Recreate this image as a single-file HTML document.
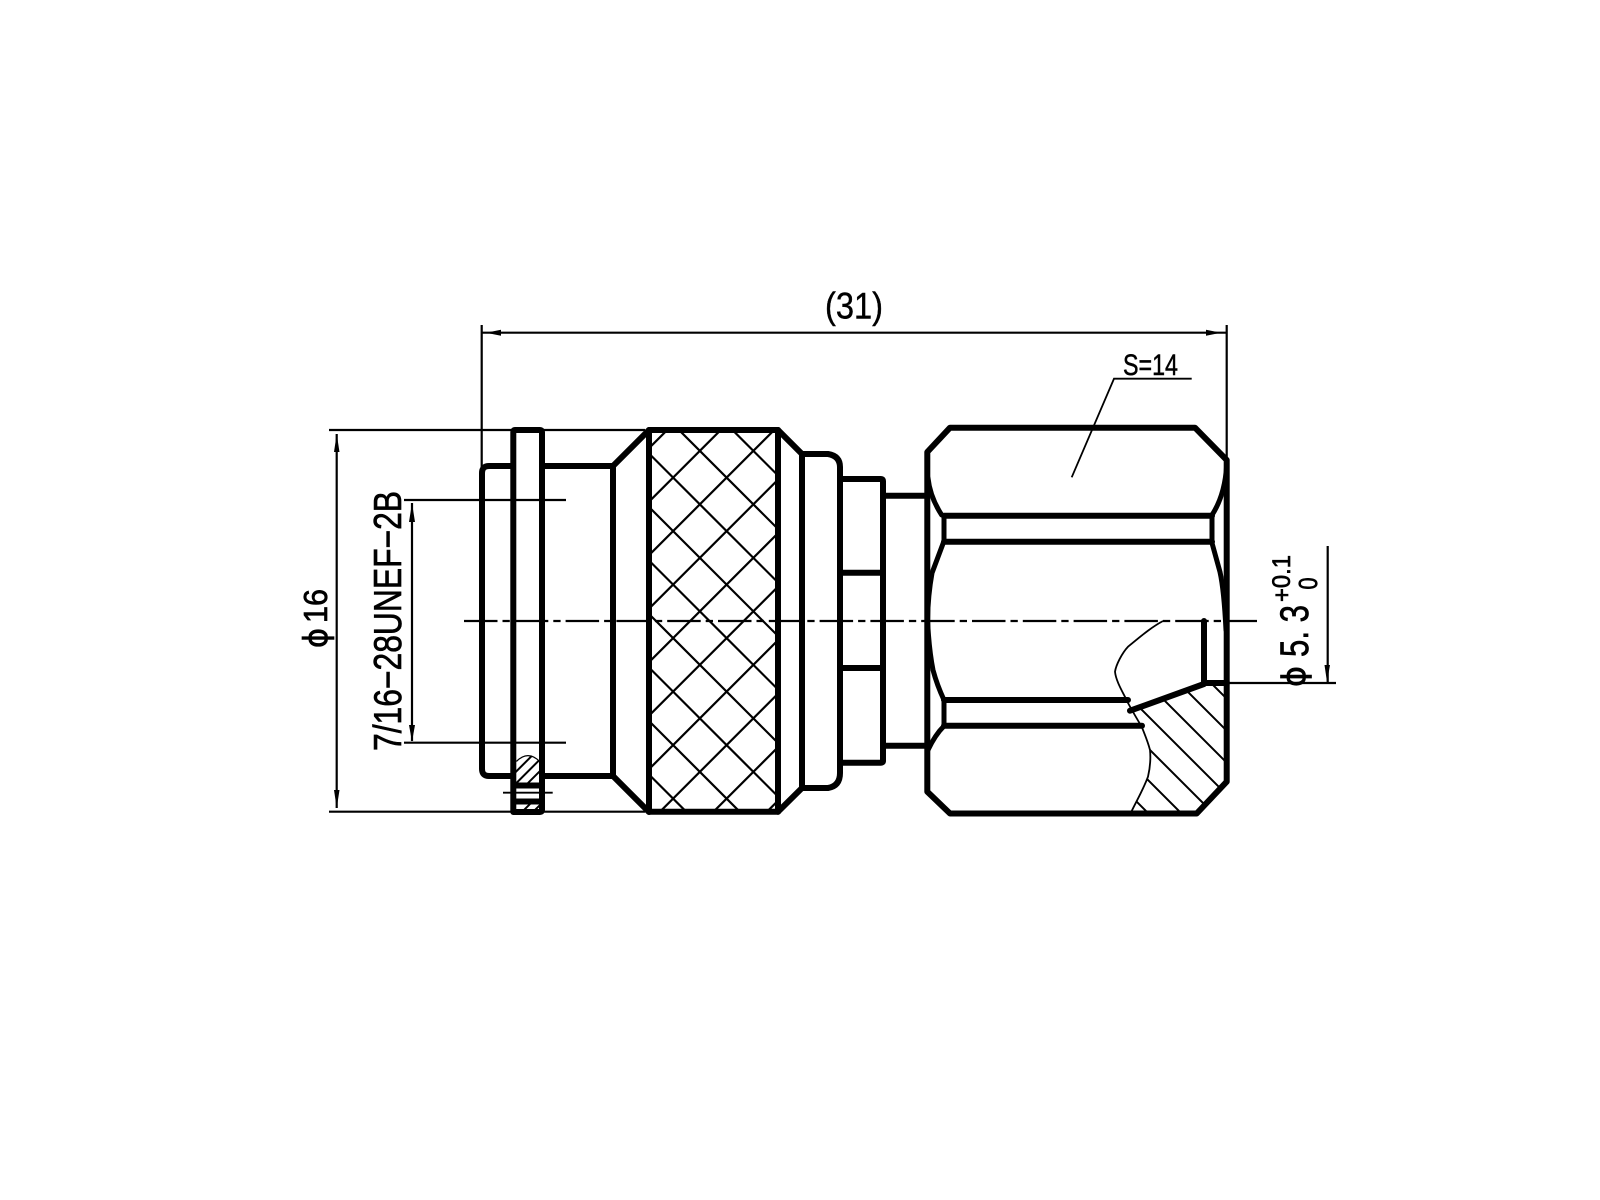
<!DOCTYPE html>
<html><head><meta charset="utf-8"><style>
html,body{margin:0;padding:0;background:#fff;width:1600px;height:1200px;overflow:hidden}
svg{display:block}
text{font-family:"Liberation Sans",sans-serif;fill:#000;stroke:#000;stroke-width:.7}
</style></head><body>
<svg width="1600" height="1200" viewBox="0 0 1600 1200" xmlns="http://www.w3.org/2000/svg">
<defs>
<clipPath id="kn"><rect x="651" y="432" width="125" height="378"/></clipPath>
<clipPath id="fh"><path d="M516 761Q528 749 540 761V783H516ZM516 804H540V810H516Z"/></clipPath>
<clipPath id="nh"><path d="M1204 684L1130 711L1141.7 726.7L1150 750L1148 776.7L1131.7 811H1197L1225 781V684Z"/></clipPath>
</defs>
<rect width="1600" height="1200" fill="#fff"/>

<!-- knurl -->
<g clip-path="url(#kn)" stroke="#000" stroke-width="2.2" fill="none">
<path d="M649 132.5L1000 483.5M649 186L1000 537M649 239.5L1000 590.5M649 293L1000 644M649 346.5L1000 697.5M649 400L1000 751M649 453.5L1000 804.5M649 507L1000 858M649 560.5L1000 911.5M649 614L1000 965M649 667.5L1000 1018.5M649 721L1000 1072M649 774.5L1000 1125.5"/>
<path d="M800 297.2L400 697.2M800 350.7L400 750.7M800 404.2L400 804.2M800 457.7L400 857.7M800 511.2L400 911.2M800 564.7L400 964.7M800 618.2L400 1018.2M800 671.7L400 1071.7M800 725.2L400 1125.2M800 778.7L400 1178.7M800 832.2L400 1232.2"/>
</g>

<!-- nut hatch -->
<g clip-path="url(#nh)" stroke="#000" stroke-width="2" fill="none">
<path d="M1100 572L1300 772M1100 604L1300 804M1100 636L1300 836M1100 668L1300 868M1100 700L1300 900M1100 732L1300 932M1100 765L1300 965"/>
</g>

<!-- flange hatch -->
<g clip-path="url(#fh)" stroke="#000" stroke-width="2" fill="none">
<path d="M500 776L550 726M500 787.7L550 737.7M500 799.4L550 749.4M500 811L550 761M500 834L550 784M500 845L550 795"/>
<path d="M516 761Q528 749 540 761" stroke-width="2.4"/>
</g>

<!-- thin dimension lines -->
<g stroke="#000" stroke-width="2.2" fill="none">
<path d="M482 332.7H1227"/>
<path d="M481.7 325V470M1226.7 325V460"/>
<path d="M329 430H645M329 811.7H645"/>
<path d="M336.7 434V808"/>
<path d="M404 500H566M404 742.7H566"/>
<path d="M412 503V741"/>
<path d="M1227 683H1336"/>
<path d="M1327.7 546V682"/>
<path d="M1191.7 378.7H1114L1071.7 477.3" stroke-width="1.8"/>
<path d="M503 792.7H552.7" stroke-width="1.8"/>
<path d="M464 621H1257" stroke-dasharray="33.5 5 7.3 5"/>
<path d="M1163 621C1150 628 1140 637 1128 646.7C1122 653 1116 665 1115 671.7C1116 682 1124 694 1128 703C1133 712 1137 719 1141.7 726.7C1145 735 1148 742 1150 750C1151 760 1150 768 1148 776.7C1143 790 1137 800 1131.7 811" stroke-width="1.8"/>
</g>

<!-- arrowheads -->
<g fill="#000">
<path d="M486 332.7L501 329.7V335.7Z"/>
<path d="M1221 332.7L1206 329.7V335.7Z"/>
<path d="M336.7 434L334 452H339.5Z"/>
<path d="M336.7 808L334 790H339.5Z"/>
<path d="M412 503L409 522H415Z"/>
<path d="M412 741.7L409 725H415Z"/>
<path d="M1327 682L1324.5 665H1330Z"/>
</g>

<!-- thick outlines -->
<g stroke="#000" stroke-width="6" fill="none" stroke-linejoin="round" stroke-linecap="round">
<!-- left barrel -->
<path d="M513 466H489Q482 466 482 473V769Q482 776 489 776H513"/>
<!-- flange -->
<path d="M513.3 812V432Q513.3 430 515 430H540Q542 430 542 432V810Q542 812 540 812H515Q513.3 812 513.3 810"/>
<path d="M516 785.5H539M516 801.5H539"/>
<path d="M542 466H613V776H542"/>
<path d="M613 466L649 430V812L613 776"/>
<!-- knurl box -->
<path d="M649 430H778V811.7H649"/>
<path d="M778 430V811.7"/>
<path d="M778 430L802 454V788L778 811.7"/>
<path d="M802 454H828Q840 456 840 467V773Q840 786 828 788H802"/>
<path d="M840 479H881Q883 479 883 481V761Q883 762.7 881 762.7H840"/>
<path d="M840 572.7H883M840 668H883"/>
<path d="M883 495.7H927M883 745.7H927"/>
<!-- hex -->
<path d="M927.3 452L950 427.7H1195L1226.7 460V781.7L1196.7 813.5H950L927.3 791.7Z"/>
<path d="M928 478Q930 497 941.7 515L944 516V541L932 573Q928 595 927.5 620Q929 650 933 670Q937 685 944 700V726Q935 735 928 750" stroke-width="5"/>
<path d="M1226.7 465Q1225 495 1212 515V543L1220 572Q1224 590 1226 630" stroke-width="5"/>
<path d="M944 515.7H1212M944 541.7H1212"/>
<path d="M944 700H1128M944 725.7H1142"/>
<path d="M1204 621V683H1227"/>
<path d="M1204 684L1130 710.7"/>
</g>

<!-- labels -->
<text x="825" y="318.3" font-size="37" textLength="58" lengthAdjust="spacingAndGlyphs" style="stroke-width:.4">(31)</text>
<text x="1123" y="375" font-size="30" textLength="55" lengthAdjust="spacingAndGlyphs" style="stroke-width:.5">S=14</text>
<text transform="translate(327 648) rotate(-90)" font-size="33" textLength="20" lengthAdjust="spacingAndGlyphs" style='font-family:"DejaVu Sans",sans-serif'>ϕ</text>
<text transform="translate(327 623) rotate(-90)" font-size="33" textLength="34" lengthAdjust="spacingAndGlyphs">16</text>
<text transform="translate(401 751) rotate(-90)" font-size="39" textLength="260" lengthAdjust="spacingAndGlyphs">7/16−28UNEF−2B</text>
<text transform="translate(1305 687) rotate(-90)" font-size="32" textLength="21" lengthAdjust="spacingAndGlyphs" style='font-family:"DejaVu Sans",sans-serif'>ϕ</text>
<text transform="translate(1308 657) rotate(-90)" font-size="40" textLength="52" lengthAdjust="spacingAndGlyphs">5. 3</text>
<text transform="translate(1290 602) rotate(-90)" font-size="25" textLength="47" lengthAdjust="spacingAndGlyphs">+0.1</text>
<text transform="translate(1317 589.5) rotate(-90)" font-size="26" textLength="12" lengthAdjust="spacingAndGlyphs">0</text>
</svg>
</body></html>
